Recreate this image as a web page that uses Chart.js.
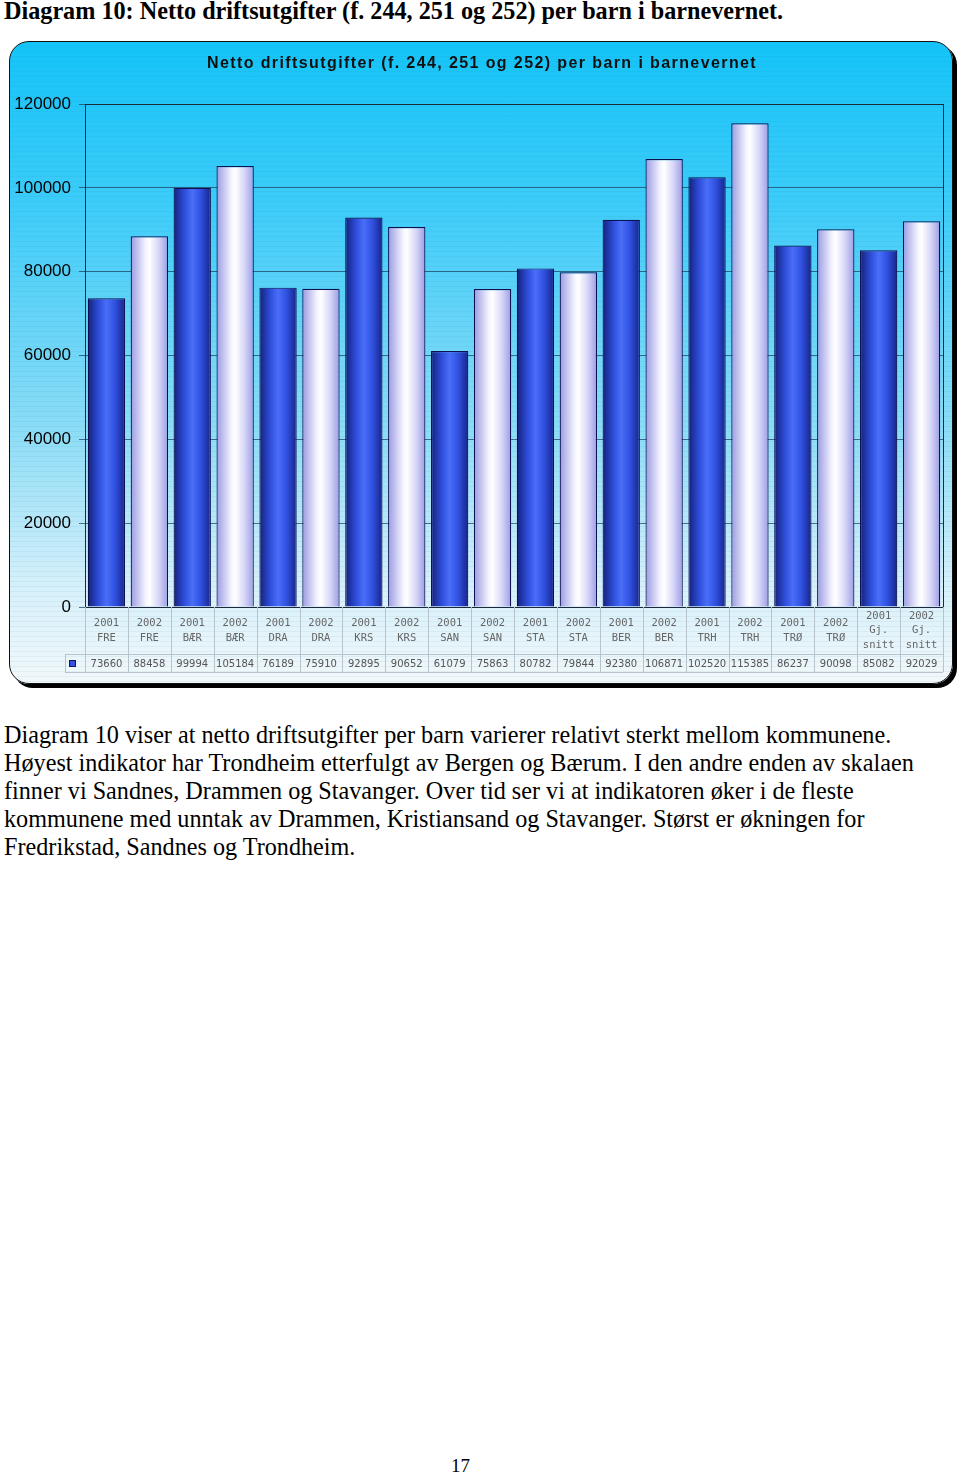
<!DOCTYPE html>
<html>
<head>
<meta charset="utf-8">
<script src="https://cdn.jsdelivr.net/npm/chart.js@4/dist/chart.umd.min.js"></script>
<style>
body{margin:0;width:960px;height:1474px;background:#fff;position:relative;overflow:hidden}
#head{position:absolute;left:4px;top:-3px;font:bold 24.2px "Liberation Serif",serif;white-space:nowrap}
#box{position:absolute;left:9px;top:41px;width:942px;height:641px;border:1px solid #111;border-radius:20px;box-shadow:4px 4px 0 #000;overflow:hidden;
 background:linear-gradient(#14c4f8 0%,#3cccf9 25%,#8adcf6 60%,#d6f0fa 85%,#f2f8fa 100%)}
#stripes{position:absolute;inset:0;background:repeating-linear-gradient(transparent 0 4px,rgba(40,110,150,.07) 4px 5px)}
#box canvas{position:absolute;left:0;top:0}
#txt{position:absolute;left:4px;top:721px;white-space:nowrap;font:24.2px/28px "Liberation Serif",serif}
#pg{position:absolute;left:451px;top:1455px;font:19px "Liberation Serif",serif}
</style>
</head>
<body>
<div id="head">Diagram 10: Netto driftsutgifter (f. 244, 251 og 252) per barn i barnevernet.</div>
<div id="box"><div id="stripes"></div><canvas id="c" width="942" height="641"></canvas></div>
<div id="txt">Diagram 10 viser at netto driftsutgifter per barn varierer relativt sterkt mellom kommunene.<br>Høyest indikator har Trondheim etterfulgt av Bergen og Bærum. I den andre enden av skalaen<br>finner vi Sandnes, Drammen og Stavanger. Over tid ser vi at indikatoren øker i de fleste<br>kommunene med unntak av Drammen, Kristiansand og Stavanger. Størst er økningen for<br>Fredrikstad, Sandnes og Trondheim.</div>
<div id="pg">17</div>
<script>
const chartTitle='Netto driftsutgifter (f. 244, 251 og 252) per barn i barnevernet';
const years=['2001','2002','2001','2002','2001','2002','2001','2002','2001','2002','2001','2002','2001','2002','2001','2002','2001','2002','2001','2002'];
const units=['FRE','FRE','BÆR','BÆR','DRA','DRA','KRS','KRS','SAN','SAN','STA','STA','BER','BER','TRH','TRH','TRØ','TRØ','Gj. snitt','Gj. snitt'];
const values=[73660,88458,99994,105184,76189,75910,92895,90652,61079,75863,80782,79844,92380,106871,102520,115385,86237,90098,85082,92029];
const yTicks=[0,20000,40000,60000,80000,100000,120000];

const labels=years.map((y,i)=>units[i]==='Gj. snitt'?[y,'Gj.','snitt']:[y,units[i]]);
const BAR=0.87;

function barFill(c){
  const ch=c.chart,x=ch.scales.x;
  const dark=years[c.dataIndex]==='2001';
  const fb=dark?'#3355e0':'#e8e8ff';
  if(!x||!ch.chartArea) return fb;
  const cx=x.getPixelForValue(c.dataIndex),w=x.width/values.length*BAR;
  if(!isFinite(cx)||!isFinite(w)||w<=0) return fb;
  const g=ch.ctx.createLinearGradient(cx-w/2,0,cx+w/2,0);
  if(dark){
    g.addColorStop(0,'#14207a');g.addColorStop(0.3,'#2f4fdc');g.addColorStop(0.5,'#4a6ef8');
    g.addColorStop(0.72,'#3152e2');g.addColorStop(1,'#17248a');
  }else{
    g.addColorStop(0,'#9a9ae2');g.addColorStop(0.4,'#f4f4ff');g.addColorStop(0.5,'#ffffff');
    g.addColorStop(0.75,'#d6d6f8');g.addColorStop(1,'#9c9ce4');
  }
  return g;
}

const tablePlugin={
  id:'table',
  afterDraw(ch){
    const ctx=ch.ctx,x=ch.scales.x,a=ch.chartArea;
    const n=values.length,step=x.width/n;
    const rowTop=a.bottom+47,rowBot=a.bottom+65;
    ctx.save();
    ctx.fillStyle='#111';ctx.font='bold 16px "Liberation Sans",Arial';ctx.textAlign='center';ctx.textBaseline='middle';
    if('letterSpacing' in ctx) ctx.letterSpacing='1.4px';
    ctx.fillText(chartTitle,472,22);
    if('letterSpacing' in ctx) ctx.letterSpacing='0px';
    ctx.strokeStyle='#b8c4cc';ctx.lineWidth=1;
    ctx.beginPath();
    for(let i=0;i<=n;i++){const px=Math.round(a.left+i*step)+0.5;ctx.moveTo(px,a.bottom);ctx.lineTo(px,rowBot);}
    ctx.moveTo(a.left-20,rowTop+0.5);ctx.lineTo(a.right,rowTop+0.5);
    ctx.moveTo(a.left-20,rowBot+0.5);ctx.lineTo(a.right,rowBot+0.5);
    ctx.moveTo(a.left-20+0.5,rowTop);ctx.lineTo(a.left-20+0.5,rowBot);
    ctx.stroke();
    ctx.fillStyle='#3350e0';ctx.strokeStyle='#101850';
    ctx.fillRect(a.left-16,rowTop+6,7,7);ctx.strokeRect(a.left-16+0.5,rowTop+6.5,6,6);
    ctx.fillStyle='#555';ctx.font='10px "DejaVu Sans",sans-serif';
    values.forEach((v,i)=>ctx.fillText(String(v),x.getPixelForValue(i),rowTop+10));
    ctx.restore();
  }
};

new Chart(document.getElementById('c'),{
  type:'bar',
  data:{labels:labels,datasets:[{data:values,backgroundColor:barFill,borderColor:'#0c1250',borderWidth:1.2,barPercentage:BAR,categoryPercentage:1}]},
  options:{
    responsive:false,animation:false,
    layout:{padding:{top:62,right:9,left:0,bottom:0}},
    plugins:{legend:{display:false},tooltip:{enabled:false},title:{display:false}},
    scales:{
      x:{
        afterFit(s){s.height=76;},
        border:{display:true,color:'#222',width:1},
        grid:{display:false},
        ticks:{color:'#666',font:{family:'"DejaVu Sans Mono",monospace',size:10.5,lineHeight:1.4},padding:1,maxRotation:0,autoSkip:false,crossAlign:'center'}
      },
      y:{
        min:0,max:120000,
        afterFit(s){s.width=75;},
        afterBuildTicks(s){s.ticks=yTicks.map(v=>({value:v}));},
        border:{display:true,color:'#222',width:1},
        grid:{color:'rgba(30,70,100,0.75)',lineWidth:1,tickLength:6,drawTicks:true},
        ticks:{color:'#000',font:{family:'"Liberation Sans",Arial',size:17},padding:8,callback:v=>String(v)}
      }
    }
  },
  plugins:[tablePlugin,{
    id:'frame',
    afterDatasetsDraw(ch){const a=ch.chartArea,ctx=ch.ctx;ctx.save();ctx.strokeStyle='#1a2a3a';ctx.lineWidth=1;
      ctx.strokeRect(Math.round(a.left)+0.5,Math.round(a.top)+0.5,Math.round(a.right-a.left),Math.round(a.bottom-a.top));ctx.restore();}
  }]
});
</script>
</body>
</html>
